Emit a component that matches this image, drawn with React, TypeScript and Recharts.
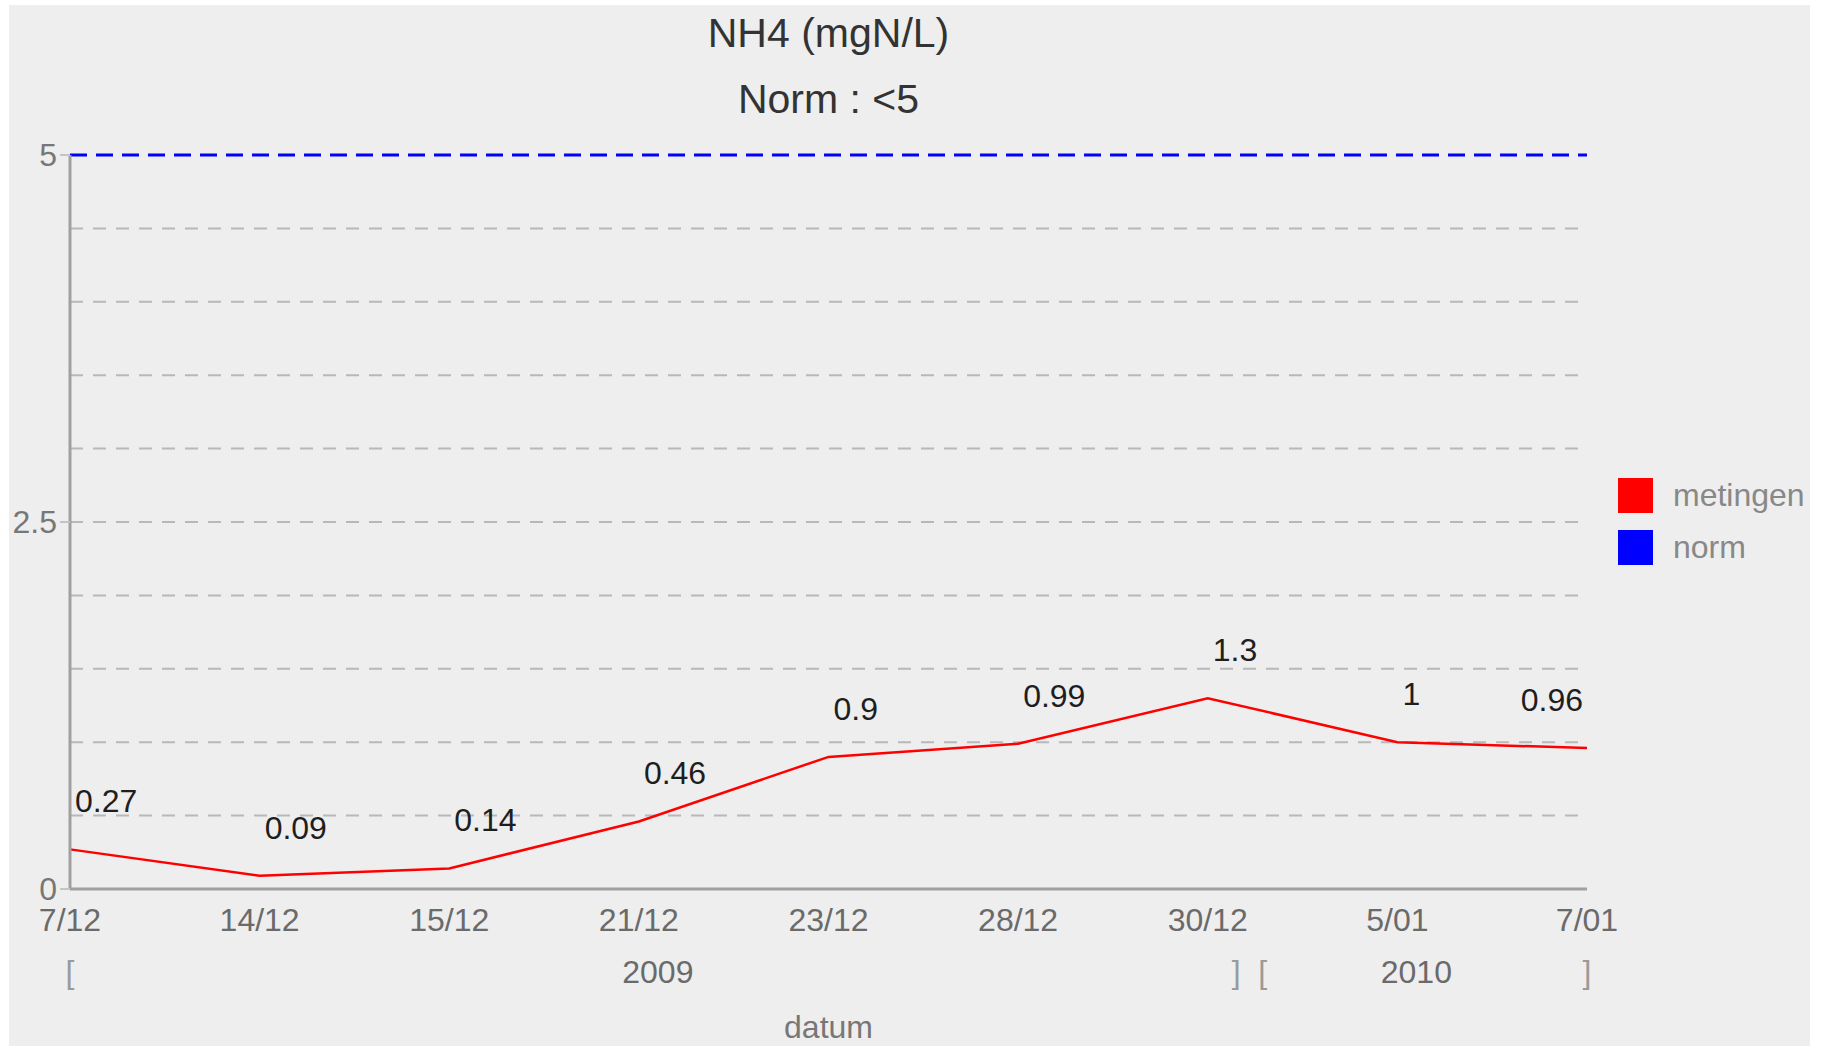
import { CartesianGrid, LabelList, Legend, Line, LineChart, XAxis, YAxis } from "recharts";

const dates = ["7/12", "14/12", "15/12", "21/12", "23/12", "28/12", "30/12", "5/01", "7/01"];
const metingen = [0.27, 0.09, 0.14, 0.46, 0.9, 0.99, 1.3, 1, 0.96];
const norm = [5, 5, 5, 5, 5, 5, 5, 5, 5];
const yTicks = [0, 2.5, 5];
const gridValues = [0.5, 1, 1.5, 2, 2.5, 3, 3.5, 4, 4.5];
// year row under the dates, positions in date-index units
const yearPos = [0, 3.1, 6.15, 6.29, 7.1, 8];
const yearText = ["[", "2009", "]", "[", "2010", "]"];

const FONT = '"Liberation Sans", Arial, sans-serif';
const W = 1801;
const H = 1041;
const LEGEND_W = 200;

const data = dates.map((d, i) => ({ date: d, metingen: metingen[i], norm: norm[i] }));

const legendItems = [
  { name: "metingen", color: "#ff0000" },
  { name: "norm", color: "#0000ff" },
];

function DateTick({ x, y, payload }: any) {
  return (
    <text x={x} y={y + 42} textAnchor="middle" fontSize={32} fontFamily={FONT} fill="#6a6a6a">
      {payload.value}
    </text>
  );
}

function YearTick({ x, y, payload }: any) {
  const i = yearPos.indexOf(payload.value);
  const t = yearText[i] ?? "";
  const bracket = t === "[" || t === "]";
  return (
    <text
      x={x}
      y={y + 34}
      textAnchor="middle"
      fontSize={32}
      fontFamily={FONT}
      fill={bracket ? "#9a9a9a" : "#6a6a6a"}
    >
      {t}
    </text>
  );
}

function ValueTick({ x, y, payload }: any) {
  return (
    <text x={x} y={y} dy="0.35em" textAnchor="end" fontSize={32} fontFamily={FONT} fill="#777">
      {payload.value}
    </text>
  );
}

function PointLabel(p: any) {
  const last = p.index === dates.length - 1;
  return (
    <text
      x={last ? p.x - 4 : p.x + 5}
      y={p.y - 37}
      textAnchor={last ? "end" : "start"}
      fontSize={32}
      fontFamily={FONT}
      fill="#1e1e1e"
    >
      {String(p.value)}
    </text>
  );
}

function LegendBox() {
  return (
    <div style={{ fontFamily: FONT }}>
      {legendItems.map((it) => (
        <div key={it.name} style={{ display: "flex", alignItems: "center", height: 35, marginBottom: 17 }}>
          <span style={{ width: 35, height: 35, background: it.color, display: "inline-block" }} />
          <span style={{ marginLeft: 20, fontSize: 32, color: "#888", whiteSpace: "nowrap" }}>{it.name}</span>
        </div>
      ))}
    </div>
  );
}

export default function App() {
  return (
    <div
      style={{
        position: "absolute",
        left: 9,
        top: 5,
        width: W,
        height: H,
        background: "#eeeeee",
        overflow: "hidden",
        fontFamily: FONT,
      }}
    >
      <div
        style={{
          position: "absolute",
          left: 0,
          width: 1639,
          top: 8,
          textAlign: "center",
          fontSize: 41,
          lineHeight: "40px",
          color: "#333",
        }}
      >
        NH4 (mgN/L)
      </div>
      <div
        style={{
          position: "absolute",
          left: 0,
          width: 1639,
          top: 74,
          textAlign: "center",
          fontSize: 41,
          lineHeight: "40px",
          color: "#333",
        }}
      >
        Norm : &lt;5
      </div>
      <LineChart
        width={W}
        height={H}
        data={data}
        margin={{ top: 150, right: 223 - LEGEND_W, bottom: 0, left: 0 }}
      >
        <CartesianGrid
          vertical={false}
          horizontalValues={gridValues}
          stroke="#b8b8b8"
          strokeWidth={2}
          strokeDasharray="13 10"
        />
        <XAxis
          dataKey="date"
          height={60}
          axisLine={{ stroke: "#a0a0a0", strokeWidth: 3 }}
          tickLine={false}
          tickSize={0}
          tickMargin={0}
          tick={<DateTick />}
          interval={0}
        />
        <XAxis
          xAxisId="yr"
          type="number"
          domain={[0, 8]}
          allowDataOverflow
          ticks={yearPos}
          height={97}
          axisLine={false}
          tickLine={false}
          tickSize={0}
          tickMargin={0}
          tick={<YearTick />}
          interval={0}
          label={(p: any) => {
            const vb = p.viewBox || {};
            return (
              <text
                x={vb.x + vb.width / 2}
                y={vb.y + 89}
                textAnchor="middle"
                fontSize={32}
                fontFamily={FONT}
                fill="#777"
              >
                datum
              </text>
            );
          }}
        />
        <YAxis
          width={61}
          domain={[0, 5]}
          ticks={yTicks}
          axisLine={{ stroke: "#a0a0a0", strokeWidth: 3 }}
          tickLine={{ stroke: "#c4c4c4", strokeWidth: 2 }}
          tickSize={10}
          tickMargin={3}
          tick={<ValueTick />}
          interval={0}
        />
        <Legend
          layout="horizontal"
          align="right"
          verticalAlign="middle"
          content={<LegendBox />}
          wrapperStyle={{ left: 1609, top: 473, width: LEGEND_W, height: 90 }}
        />
        <Line
          dataKey="norm"
          name="norm"
          stroke="#0000ff"
          strokeWidth={3}
          strokeDasharray="17 9"
          dot={false}
          activeDot={false}
          isAnimationActive={false}
        />
        <Line
          dataKey="metingen"
          name="metingen"
          stroke="#ff0000"
          strokeWidth={2.5}
          dot={false}
          activeDot={false}
          isAnimationActive={false}
        >
          <LabelList dataKey="metingen" content={<PointLabel />} />
        </Line>
      </LineChart>
    </div>
  );
}
